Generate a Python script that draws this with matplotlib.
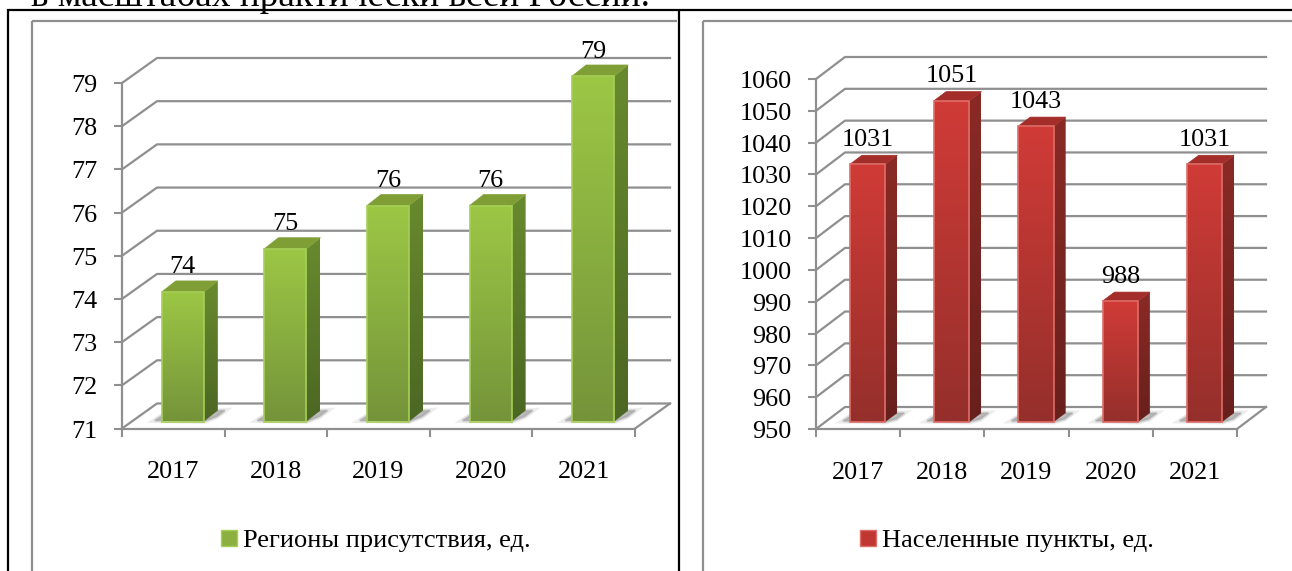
import numpy as np
import matplotlib
matplotlib.use("Agg")
import matplotlib.pyplot as plt
from matplotlib.lines import Line2D
from matplotlib.patches import Polygon, Patch
from matplotlib.transforms import Affine2D, IdentityTransform

plt.rcParams['font.family'] = ['Liberation Serif', 'DejaVu Serif']

years = ['2017', '2018', '2019', '2020', '2021']
regions = [74, 75, 76, 76, 79]
settlements = [1031, 1051, 1043, 988, 1031]
region_ticks = [71, 72, 73, 74, 75, 76, 77, 78, 79]
settlement_ticks = [950, 960, 970, 980, 990, 1000, 1010, 1020, 1030, 1040, 1050, 1060]
region_label = 'Регионы присутствия, ед.'
settlement_label = 'Населенные пункты, ед.'
clipped_text = 'в масштабах практически всей России.'

W, H = 1292, 571
GREY = '#8f8f8f'
FS = 18.8
fig = plt.figure(figsize=(W / 100, H / 100), dpi=100, facecolor='white')
ID = IdentityTransform()


def fig_line(xs, ys, color, lw):
    fig.add_artist(Line2D(xs, [H - y for y in ys], transform=ID, color=color, lw=lw,
                          solid_capstyle='butt'))


def grad(c1, c2):
    a = np.array(matplotlib.colors.to_rgb(c1))
    b = np.array(matplotlib.colors.to_rgb(c2))
    t = np.linspace(0, 1, 64)[:, None, None]
    return a[None, None, :] * (1 - t) + b[None, None, :] * t


def chart(box, values, ticks, label, depth, shift, side, colors, width, legend_xy, leg_fs):
    L, R, B, T = box
    ax = fig.add_axes([L / W, (H - B) / H, (R - L) / W, (B - T) / H])
    ax.patch.set_alpha(0)
    x = np.arange(len(values))
    ymin, ymax = ticks[0], ticks[-1]
    ax.set_xlim(-0.5, len(values) - 0.5)
    ax.set_ylim(ymin, ymax)
    ax.set_xticks(np.arange(len(values) + 1) - 0.5, minor=False)
    ax.set_xticklabels([])
    ax.set_xticks(x, minor=True)
    ax.set_xticklabels(years, minor=True, fontsize=FS)
    ax.tick_params(axis='x', which='major', length=5.5, width=1.5, color=GREY)
    ax.tick_params(axis='x', which='minor', length=0, pad=23.5, labelsize=FS)
    ax.set_yticks(ticks)
    ax.set_yticklabels([str(t) for t in ticks], fontsize=FS)
    ax.tick_params(axis='y', length=5.5, width=1.5, color=GREY, pad=12)
    for lab in ax.get_yticklabels():
        lab.set_verticalalignment('center')
        lab.set_transform(lab.get_transform() + Affine2D().translate(0, -3))
    for s in ('top', 'right'):
        ax.spines[s].set_visible(False)
    for s in ('left', 'bottom'):
        ax.spines[s].set_color(GREY)
        ax.spines[s].set_linewidth(1.6)
    td = ax.transData
    # back wall grid and side wall
    for t in ticks:
        p0 = td.transform((-0.5, t))
        p1 = td.transform((len(values) - 0.5, t))
        xs = [p0[0], p0[0] + depth[0], p1[0] + depth[0]]
        ys = [p0[1], p0[1] + depth[1], p1[1] + depth[1]]
        ax.add_line(Line2D(xs, ys, transform=ID, color=GREY, lw=1.6, zorder=1, clip_on=False))
    p1 = td.transform((len(values) - 0.5, ymin))
    ax.add_line(Line2D([p1[0], p1[0] + depth[0]], [p1[1], p1[1] + depth[1]], transform=ID,
                       color=GREY, lw=1.6, zorder=1, clip_on=False))
    front = Affine2D().translate(*shift)
    bars = ax.bar(x, np.array(values) - ymin, bottom=ymin, width=width,
                  transform=td + front, facecolor='none', edgecolor=colors['edge'],
                  linewidth=1.2, zorder=6, clip_on=False)
    for bar, val in zip(bars, values):
        (x0, y0) = (td + front).transform((bar.get_x(), ymin))
        (x1, y1) = (td + front).transform((bar.get_x() + bar.get_width(), val))
        sx, sy = side
        # soft floor shadow
        pts = [(x0 - 7, y0 + 1), (x0 + 4, y0 + 8), (x1 + sx + 7, y0 + sy), (x1 + sx - 1, y0 + sy - 6), (x1, y0)]
        for lw, alpha in ((5, 0.18), (3, 0.25), (1, 0.35)):
            ax.add_patch(Polygon(pts, closed=True, transform=ID, facecolor='#9a9a9a', edgecolor='#9a9a9a',
                                 lw=lw * 0.72, alpha=alpha, zorder=2, clip_on=False))
        # front face
        ax.imshow(grad(colors['top'], colors['bottom']), extent=(x0, x1, y0, y1), origin='upper',
                  transform=ID, aspect='auto', zorder=5, clip_on=False, interpolation='bilinear')
        # side face
        poly = Polygon([(x1, y0), (x1 + sx, y0 + sy), (x1 + sx, y1 + sy), (x1, y1)], closed=True,
                       transform=ID, facecolor='none', edgecolor='none')
        ax.add_patch(poly)
        im = ax.imshow(grad(colors['side_top'], colors['side_bottom']),
                       extent=(x1, x1 + sx, y0, y1 + sy), origin='upper', transform=ID,
                       aspect='auto', zorder=5, interpolation='bilinear')
        im.set_clip_box(fig.bbox)
        im.set_clip_path(poly)
        # top face
        ax.add_patch(Polygon([(x0, y1), (x1, y1), (x1 + sx, y1 + sy), (x0 + sx, y1 + sy)], closed=True,
                             transform=ID, facecolor=colors['cap'], edgecolor=colors['cap'],
                             lw=0.5, zorder=5, clip_on=False))
        ax.annotate(str(val), xy=(bar.get_x() + bar.get_width() / 2, val), xycoords=td + front,
                    xytext=(0, 24.5 * 0.72), textcoords='offset points', ha='center', va='center',
                    fontsize=FS, color='black', zorder=7, annotation_clip=False)
    ax.set_xlim(-0.5, len(values) - 0.5)
    ax.set_ylim(ymin, ymax)
    fig.legend(handles=[Patch(facecolor=colors['swatch'], edgecolor=colors['edge'], label=label)],
               loc='center left', bbox_to_anchor=(legend_xy[0] / W, (H - legend_xy[1]) / H),
               frameon=False, fontsize=leg_fs, handlelength=0.6, handleheight=0.6,
               handletextpad=0.22, borderpad=0, borderaxespad=0)
    return ax


GREEN = dict(top='#9cc745', bottom='#75943a', side_top='#688a2e', side_bottom='#4c6723',
             cap='#7f9f36', edge='#a6cf58', swatch='#8cb040')
RED = dict(top='#d03b37', bottom='#952f2b', side_top='#8a2a26', side_bottom='#68201c',
           cap='#a32d29', edge='#df6d68', swatch='#bf3632')

chart((122, 635, 428.5, 83), regions, region_ticks, region_label, (35, 25), (9.5, 7), (14, 11),
      GREEN, 0.41, (221, 541), 19.0)
chart((816, 1237, 429, 79), settlements, settlement_ticks, settlement_label, (29, 22), (9.5, 7), (12, 9),
      RED, 0.42, (860, 541), 19.0)

# page frame and chart frames
fig_line([32, 677], [21, 21], GREY, 1.6)
fig_line([32, 32], [21, H], GREY, 1.6)
fig_line([703, W], [21, 21], GREY, 1.6)
fig_line([703, 703], [21, H], GREY, 1.6)
fig_line([7, W], [9.5, 9.5], 'black', 1.6)
fig_line([7.5, 7.5], [9, H], 'black', 1.6)
fig_line([679, 679], [9, H], 'black', 1.6)

fig.text(31 / W, (H - 6.5) / H, clipped_text, fontsize=26.8, color='black', ha='left', va='baseline')

fig.savefig('out.png', dpi=100)
